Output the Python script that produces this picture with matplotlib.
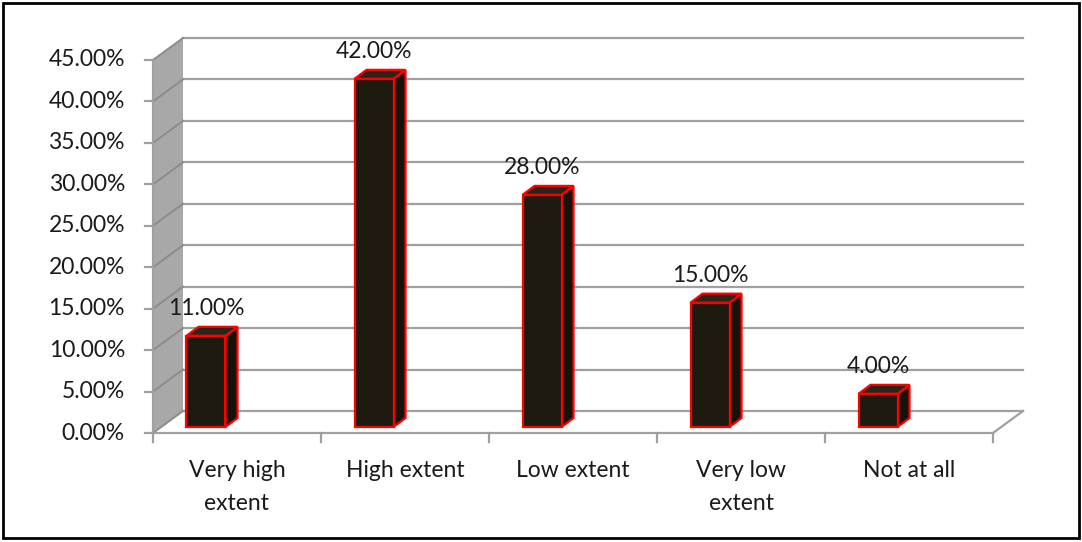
import matplotlib
matplotlib.use('Agg')
from matplotlib import pyplot as plt
from matplotlib.patches import Polygon, Rectangle

# ------- data -------
categories = ['Very high\nextent', 'High extent', 'Low extent', 'Very low\nextent', 'Not at all']
values = [11.0, 42.0, 28.0, 15.0, 4.0]
yticks = [0, 5, 10, 15, 20, 25, 30, 35, 40, 45]

# ------- layout (pixels -> data units) -------
W, H = 1082, 542
PX_X = 168.0          # pixels per category
PX_Y = 8.2889         # pixels per percent
X0_PX, Y0_PX = 153, 433

def px2x(px):
    return (px - X0_PX) / PX_X - 0.5

def px2y(py):
    return (Y0_PX - py) / PX_Y

WALL_DX = 30 / PX_X
WALL_DY = 22 / PX_Y
BAR_W = 39 / PX_X
BAR_DX = 12 / PX_X
BAR_DY = 9 / PX_Y
BAR_SHIFT = -31 / PX_X     # bar front face centre relative to category centre
BAR_BASE = 6 / PX_Y
LABEL_GAP = 27 / PX_Y

GRID = '#a0a0a0'
WALL = '#a8a8a8'
FRONT = '#1f1a10'
SIDE = '#16120a'
TOP = '#2a241a'
EDGE = '#ff0000'
TXT = '#1a1a1a'
FS = 16.5

plt.rcParams['font.family'] = ['Lato', 'DejaVu Sans']

fig = plt.figure(figsize=(W / 100, H / 100), dpi=100)
ax = fig.add_axes([0, 0, 1, 1])
ax.set_xlim(px2x(0), px2x(W))
ax.set_ylim(px2y(H), px2y(0))
ax.axis('off')

n = len(categories)
xl, xr = -0.5, n - 0.5
ymax = yticks[-1]

# side wall
ax.add_patch(Polygon([(xl, 0), (xl + WALL_DX, WALL_DY), (xl + WALL_DX, ymax + WALL_DY),
                      (xl, ymax)], closed=True, facecolor=WALL, edgecolor='none', zorder=1))

# gridlines on back wall + diagonals on side wall
for t in yticks:
    ax.plot([xl + WALL_DX, xr + WALL_DX], [t + WALL_DY, t + WALL_DY], color=GRID, lw=1.6, zorder=2)
    ax.plot([xl, xl + WALL_DX], [t, t + WALL_DY], color='#8c8c8c', lw=1.4, zorder=2)
    ax.plot([xl - 8 / PX_X, xl], [t, t], color=GRID, lw=1.6, zorder=2)
    ax.text(px2x(125), t, '{:.2f}%'.format(t), ha='right', va='center', fontsize=FS, color=TXT)

# value axis and floor
ax.plot([xl, xl], [0, ymax], color=GRID, lw=1.6, zorder=2)
ax.plot([xl, xr], [0, 0], color=GRID, lw=1.6, zorder=2)
ax.plot([xr, xr + WALL_DX], [0, WALL_DY], color=GRID, lw=1.6, zorder=2)
for i in range(n + 1):
    ax.plot([i - 0.5, i - 0.5], [0, -9 / PX_Y], color=GRID, lw=1.6, zorder=2)

# bars
for i, (cat, v) in enumerate(zip(categories, values)):
    x1 = i + BAR_SHIFT - BAR_W / 2
    x2 = x1 + BAR_W
    b = BAR_BASE
    front = Rectangle((x1, b), BAR_W, v, facecolor=FRONT, edgecolor=EDGE, lw=1.6, zorder=5)
    side = Polygon([(x2, b), (x2 + BAR_DX, b + BAR_DY), (x2 + BAR_DX, b + v + BAR_DY), (x2, b + v)],
                   closed=True, facecolor=SIDE, edgecolor=EDGE, lw=1.6, zorder=4)
    top = Polygon([(x1, b + v), (x1 + BAR_DX, b + v + BAR_DY), (x2 + BAR_DX, b + v + BAR_DY), (x2, b + v)],
                  closed=True, facecolor=TOP, edgecolor=EDGE, lw=1.6, zorder=4)
    ax.add_patch(side)
    ax.add_patch(top)
    ax.add_patch(front)
    ax.text(i + BAR_SHIFT, b + v + LABEL_GAP, '{:.2f}%'.format(v), ha='center', va='center',
            fontsize=FS, color=TXT)
    ax.text(i, px2y(460), cat, ha='center', va='top', fontsize=FS, color=TXT, linespacing=1.7)

# outer border
ax.add_patch(Rectangle((px2x(3), px2y(538)), px2x(1079) - px2x(3), px2y(3) - px2y(538),
                       facecolor='none', edgecolor='black', lw=2, zorder=10))

fig.savefig('out.png', dpi=100)
